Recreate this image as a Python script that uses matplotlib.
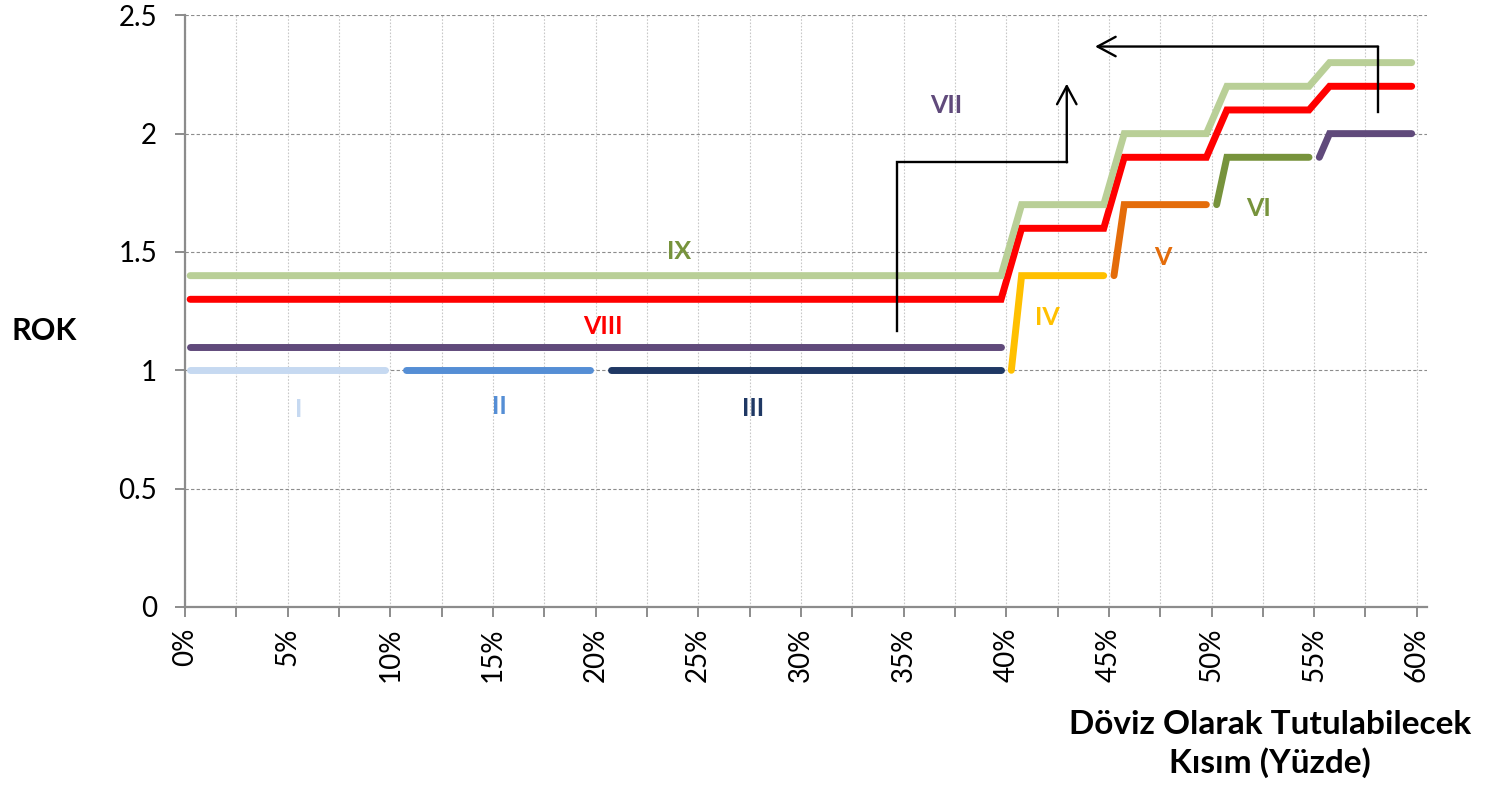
import matplotlib
matplotlib.use("Agg")
import matplotlib.pyplot as plt

plt.rcParams['font.family'] = ['Lato', 'DejaVu Sans']

# series: x in percent, y = ROK
x_I = [0.25, 9.75]
y_I = [1.0, 1.0]
x_II = [10.75, 19.75]
y_II = [1.0, 1.0]
x_III = [20.75, 39.75]
y_III = [1.0, 1.0]
x_IV = [40.25, 40.75, 44.75]
y_IV = [1.0, 1.4, 1.4]
x_V = [45.25, 45.75, 49.75]
y_V = [1.4, 1.7, 1.7]
x_VI = [50.25, 50.75, 54.75]
y_VI = [1.7, 1.9, 1.9]
x_VII_a = [0.25, 39.75]
y_VII_a = [1.1, 1.1]
x_VII_b = [55.25, 55.75, 59.75]
y_VII_b = [1.9, 2.0, 2.0]
x_step = [0.25, 39.75, 40.75, 44.75, 45.75, 49.75, 50.75, 54.75, 55.75, 59.75]
y_VIII = [1.3, 1.3, 1.6, 1.6, 1.9, 1.9, 2.1, 2.1, 2.2, 2.2]
y_IX = [1.4, 1.4, 1.7, 1.7, 2.0, 2.0, 2.2, 2.2, 2.3, 2.3]

# label positions
label_names = ['I', 'II', 'III', 'IV', 'V', 'VI', 'VII', 'VIII', 'IX']
label_x = [5.55, 15.3, 27.67, 41.99, 47.64, 52.31, 37.07, 20.36, 24.06]
label_y = [0.833, 0.846, 0.837, 1.222, 1.476, 1.683, 2.118, 1.184, 1.501]

# arrow paths
arrow1_x = [34.67, 34.67, 42.95, 42.95]
arrow1_y = [1.164, 1.879, 1.879, 2.211]
arrow2_x = [58.11, 58.11, 44.33]
arrow2_y = [2.092, 2.368, 2.368]

c_I = '#C6D9F1'
c_II = '#558ED5'
c_III = '#1F3864'
c_IV = '#FFC000'
c_V = '#E46C0A'
c_VI = '#77933C'
c_VII = '#604A7B'
c_VIII = '#FF0000'
c_IX = '#B9CF97'
label_colors = [c_I, c_II, c_III, c_IV, c_V, c_VI, c_VII, c_VIII, c_VI]

fig = plt.figure(figsize=(14.87, 7.88), dpi=100)
ax = fig.add_axes([0.1244, 0.2297, 0.9597 - 0.1244, 0.9806 - 0.2297])

lw = 5
kw = dict(linewidth=lw, solid_capstyle='round', solid_joinstyle='miter')
ax.plot(x_I, y_I, color=c_I, **kw)
ax.plot(x_II, y_II, color=c_II, **kw)
ax.plot(x_III, y_III, color=c_III, **kw)
ax.plot(x_IV, y_IV, color=c_IV, **kw)
ax.plot(x_V, y_V, color=c_V, **kw)
ax.plot(x_VI, y_VI, color=c_VI, **kw)
ax.plot(x_VII_a, y_VII_a, color=c_VII, **kw)
ax.plot(x_VII_b, y_VII_b, color=c_VII, **kw)
ax.plot(x_step, y_VIII, color=c_VIII, **kw)
ax.plot(x_step, y_IX, color=c_IX, **kw)

for name, lx, ly, col in zip(label_names, label_x, label_y, label_colors):
    ax.text(lx, ly, name, color=col, fontsize=18, fontweight='bold',
            ha='center', va='center')

# black arrows
for axs, ays in [(arrow1_x, arrow1_y), (arrow2_x, arrow2_y)]:
    ax.plot(axs[:-1], ays[:-1], color='black', linewidth=1.7,
            solid_joinstyle='miter', zorder=5)
    ax.annotate('', xy=(axs[-1], ays[-1]), xytext=(axs[-2], ays[-2]),
                arrowprops=dict(arrowstyle='->,head_length=1.3,head_width=0.7',
                                color='black', lw=1.7, shrinkA=0, shrinkB=0),
                zorder=5)

ax.set_xlim(0, 60.5)
ax.set_ylim(0, 2.5)

xt = [i * 2.5 for i in range(25)]
ax.set_xticks(xt)
ax.set_xticklabels(['%d%%' % t if t % 5 == 0 else '' for t in xt],
                   rotation=90, fontsize=20)
ax.set_yticks([0, 0.5, 1, 1.5, 2, 2.5])
ax.set_yticklabels(['0', '0.5', '1', '1.5', '2', '2.5'], fontsize=20)

ax.grid(axis='x', color='#C8C8C8', linestyle=(0, (1.5, 1.5)), linewidth=0.8)
ax.grid(axis='y', color='#8C8C8C', linestyle=(0, (3, 2)), linewidth=0.8)
ax.set_axisbelow(True)

for s in ['top', 'right']:
    ax.spines[s].set_visible(False)
for s in ['left', 'bottom']:
    ax.spines[s].set_color('#8C8C8C')
    ax.spines[s].set_linewidth(1.6)
ax.tick_params(axis='both', direction='out', length=7, width=1.4,
               color='#8C8C8C')
ax.tick_params(axis='y', pad=13)
ax.tick_params(axis='x', pad=8)

fig.text(44 / 1487, 1 - 331 / 788, 'ROK', fontsize=22, fontweight='bold',
         ha='center', va='center')
fig.text(1270 / 1487, 1 - 744 / 788, 'Döviz Olarak Tutulabilecek\nKısım (Yüzde)',
         fontsize=24, fontweight='bold', ha='center', va='center',
         linespacing=1.35)

fig.savefig('out.png', dpi=100)
